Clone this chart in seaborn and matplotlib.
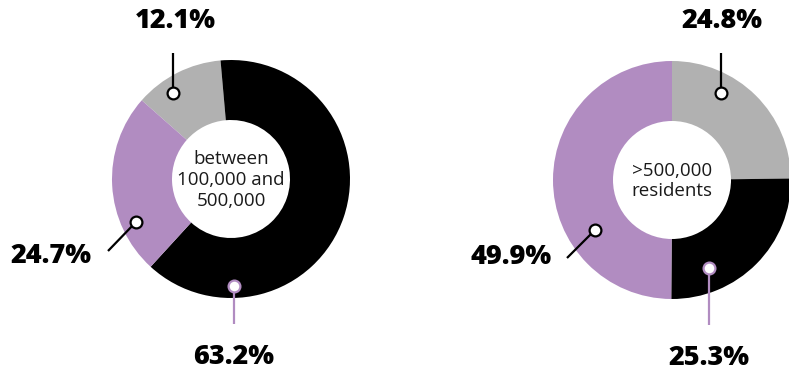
import matplotlib
matplotlib.use("Agg")
import matplotlib.pyplot as plt
import seaborn as sns

sns.set_theme(style="white")
plt.rcParams["font.family"] = ["Open Sans", "DejaVu Sans"]

# data
CATEGORIES = ["gray", "black", "purple"]
COLORS = ["#b1b1b1", "#000000", "#b18cc1"]
LEFT_VALUES = [12.1, 63.2, 24.7]
RIGHT_VALUES = [24.8, 25.3, 49.9]
LEFT_TITLE = "between\n100,000 and\n500,000"
RIGHT_TITLE = ">500,000\nresidents"

W, H = 789, 374
fig = plt.figure(figsize=(W / 100, H / 100), dpi=100)
ax = fig.add_axes([0, 0, 1, 1])

R_OUT, WIDTH = 119, 60


def donut(values, center, start, title):
    ax.pie(values, colors=COLORS, startangle=start, counterclock=False,
           center=center, radius=R_OUT,
           wedgeprops=dict(width=WIDTH, linewidth=0), frame=True)
    ax.text(center[0], center[1] - 1, title, ha="center", va="center",
            fontsize=13.5, color="#1a1a1a", linespacing=1.2)


def leader(label, text_xy, p0, p1, color):
    ax.plot([p0[0], p1[0]], [p0[1], p1[1]], color=color, lw=1.6,
            solid_capstyle="butt", zorder=3)
    ax.plot(p1[0], p1[1], "o", ms=8.5, mfc="white", mec=color, mew=1.6, zorder=4)
    ax.text(text_xy[0], text_xy[1], label, ha="center", va="center",
            fontsize=19.5, fontweight="heavy", color="black")


# pies drawn in pixel-like coordinates (y downward -> negate)
donut(LEFT_VALUES, (231, -179), 138.6, LEFT_TITLE)
donut(RIGHT_VALUES, (672, -180), 90, RIGHT_TITLE)

leader(f"{LEFT_VALUES[0]}%", (175, -21), (173, -53), (173, -93), "black")
leader(f"{LEFT_VALUES[2]}%", (51, -256), (108, -251), (136, -222), "black")
leader(f"{LEFT_VALUES[1]}%", (234, -357), (234, -324), (234, -286), COLORS[2])

leader(f"{RIGHT_VALUES[0]}%", (722, -21), (721, -53), (721, -93), "black")
leader(f"{RIGHT_VALUES[2]}%", (511, -257), (567, -258), (595, -230), "black")
leader(f"{RIGHT_VALUES[1]}%", (709, -358), (709, -325), (709, -268), COLORS[2])

ax.set_xlim(0, W)
ax.set_ylim(-H, 0)
ax.set_aspect("equal")
ax.axis("off")

fig.savefig("out.png", dpi=100, facecolor="white")
